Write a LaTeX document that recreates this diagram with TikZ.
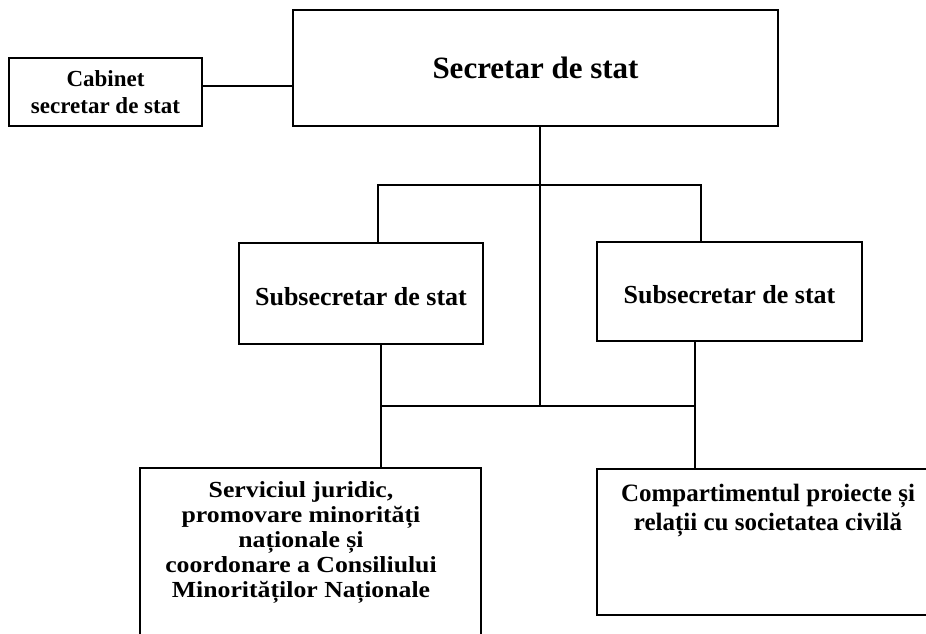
\documentclass[tikz,border=0pt]{standalone}
\usepackage{fontspec}
\setmainfont{Liberation Serif}
\newfontfamily\widefont{Liberation Serif}[FakeStretch=1.12]
\usepackage{tikz}

\begin{document}
\begin{tikzpicture}[x=1pt, y=-1pt, font=\bfseries]
\tikzset{box/.style={draw, line width=1.5pt, inner sep=0pt, align=center},
         subbox/.style={box, text height=24pt, text depth=0pt, font=\bfseries\fontsize{26}{30}\selectfont},
         link/.style={line width=1.1pt}}
\useasboundingbox (0,0) rectangle (926,633);
\clip (0,0) rectangle (926,633);
\node[box, minimum width=485, minimum height=116, font=\bfseries\fontsize{31}{36}\selectfont] (sec) at (535.5,68) {Secretar de stat};
\node[box, minimum width=193, minimum height=68, font=\bfseries\fontsize{23}{26.7}\selectfont] (cab) at (105.5,92) {Cabinet\\secretar de stat};
\node[subbox, minimum width=244, minimum height=101] (sub1) at (361,293.5) {Subsecretar de stat};
\node[subbox, minimum width=265, minimum height=99] (sub2) at (729.5,291.5) {Subsecretar de stat};
% lower boxes run past the edge of the page
\node[box, minimum width=341, minimum height=200, anchor=north] (serv) at (310.5,467) {};
\node[box, minimum width=363, minimum height=146, anchor=north] (comp) at (778.5,468) {};
\node[anchor=north, inner sep=0pt, align=center, font=\widefont\bfseries\fontsize{23}{25}\selectfont] (servtxt) at ([xshift=-9.5pt, yshift=-14.5pt]serv.north) {Serviciul juridic,\\promovare minorități\\naționale și\\coordonare a Consiliului\\Minorităților Naționale};
\node[anchor=north, inner sep=0pt, align=center, font=\bfseries\fontsize{25}{29}\selectfont] (comptxt) at ([xshift=-10.5pt, yshift=-16pt]comp.north) {Compartimentul proiecte și\\relații cu societatea civilă};
\coordinate (j1) at (540,185);
\coordinate (j2) at (540,406);
\coordinate (b1) at (378,185);
\coordinate (b2) at (701,185);
\coordinate (c1) at (381,406);
\coordinate (c2) at (695,406);
\draw[link] ([yshift=6pt]cab.east) -- ([yshift=6pt]cab.east -| sec.west);
\draw[link] (sec.south -| j1) -- (j1) -- (j2);
\draw[link] (b1 |- sub1.north) -- (b1) -- (b2) -- (b2 |- sub2.north);
\draw[link] (c1 |- sub1.south) -- (c1 |- serv.north);
\draw[link] (c2 |- sub2.south) -- (c2 |- comp.north);
\draw[link] (c1) -- (c2);
\end{tikzpicture}
\end{document}
